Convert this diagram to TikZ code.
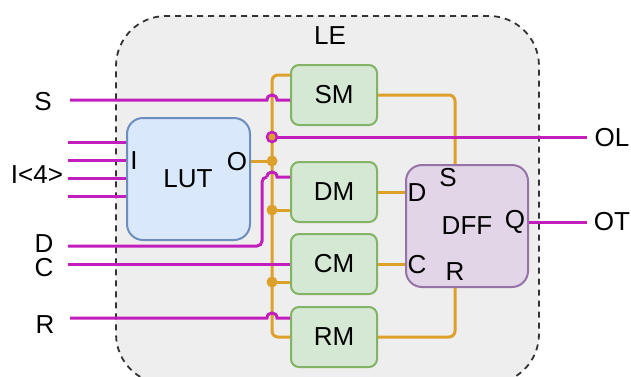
\documentclass[tikz,border=0pt]{standalone}
\usepackage{fontspec}
\setmainfont{Liberation Sans}
\definecolor{magc}{RGB}{194,30,190}
\definecolor{orgc}{RGB}{221,160,42}
\definecolor{gfill}{HTML}{D5E8D4}
\definecolor{gbord}{HTML}{82B366}
\definecolor{bfill}{HTML}{DAE8FC}
\definecolor{bbord}{HTML}{6C8EBF}
\definecolor{pfill}{HTML}{E1D5E7}
\definecolor{pbord}{HTML}{9673A6}
\definecolor{lefill}{HTML}{EEEEEE}
\definecolor{lebord}{HTML}{333333}
\begin{document}
\begin{tikzpicture}[x=1pt,y=-1pt,
  font=\fontsize{26}{30}\selectfont,
  mag/.style={draw=magc, line width=3pt},
  org/.style={draw=orgc, line width=3pt},
  mbox/.style={draw=gbord, fill=gfill, line width=2pt, rounded corners=8pt,
    minimum width=86pt, minimum height=60pt, inner sep=0pt},
  bigbox/.style={line width=2pt, rounded corners=16pt,
    minimum width=122pt, minimum height=122pt, inner sep=0pt},
  lbl/.style={inner sep=0pt, anchor=center},
  odot/.style={circle, fill=orgc, inner sep=0pt, minimum size=11pt},
  mring/.style={circle, draw=magc, line width=2.5pt, fill=orgc, inner sep=0pt, minimum size=10pt}]
\useasboundingbox (0,0) rectangle (631,376);

% container
\node[draw=lebord, fill=lefill, line width=1.8pt, dash pattern=on 6pt off 5pt,
  rounded corners=50pt, minimum width=423pt, minimum height=368pt, inner sep=0pt]
  (le) at (327.5,200) {};
\node[lbl] (letxt) at (330,36) {LE};

% boxes
\node[mbox] (sm) at (334,95) {SM};
\node[mbox] (dm) at (334,192) {DM};
\node[mbox] (cm) at (334,264) {CM};
\node[mbox] (rm) at (334,337) {RM};
\node[bigbox, draw=bbord, fill=bfill, minimum width=123pt] (lut) at (188.5,179) {};
\node[bigbox, draw=pbord, fill=pfill] (dff) at (467,226) {};

% coordinates
\coordinate (bustop) at (272,75);
\coordinate (busbot) at (272,337);
\coordinate (lo) at (272,161);
\coordinate (dmj) at (272,210);
\coordinate (cmj) at (272,282);
\coordinate (olj) at (272,137);
\coordinate (olend) at (587,137);
\coordinate (otend) at (587,222);
\coordinate (sin) at (70,100);
\coordinate (din) at (68,246);
\coordinate (dhop) at (277,177);
\coordinate (cin) at (68,264);
\coordinate (rin) at (70,318);
\coordinate (i1) at (68,142);
\coordinate (i2) at (68,160);
\coordinate (i3) at (68,178);
\coordinate (i4) at (68,196);
\coordinate (smc) at (455,95);
\coordinate (rmc) at (455,337);

% orange wiring
\draw[org, rounded corners=6pt] ([yshift=20pt]sm.west) -- (bustop) -- (busbot) -- (rm.west);
\draw[org] (lut.east |- lo) -- (lo);
\draw[org] (dmj) -- (dm.west |- dmj);
\draw[org] (cmj) -- (cm.west |- cmj);
\node[odot] (dlo) at (lo) {};
\node[odot] (ddm) at (dmj) {};
\node[odot] (dcm) at (cmj) {};
\draw[org, rounded corners=6pt] (sm.east) -- (smc) -- (smc |- dff.north);
\draw[org] (dm.east) -- (dff.west |- dm.east);
\draw[org] (cm.east) -- (dff.west |- cm.east);
\draw[org, rounded corners=6pt] (rm.east) -- (rmc) -- (rmc |- dff.south);

% magenta wiring
\draw[mag] (sin) -- (267,100) .. controls (267,93.3) and (277,93.3) .. (277,100) -- (sm.west |- sin);
\draw[mag] (olj) -- (olend);
\node[mring] (olring) at (olj) {};
\draw[mag] (i1) -- (lut.west |- i1);
\draw[mag] (i2) -- (lut.west |- i2);
\draw[mag] (i3) -- (lut.west |- i3);
\draw[mag] (i4) -- (lut.west |- i4);
\draw[mag, rounded corners=5pt] (din) -- (262,246) -- (262,177) -- (267,177);
\draw[mag] (267,177) .. controls (267,170.3) and (277,170.3) .. (dhop) -- (dm.west |- dhop);
\draw[mag] (cin) -- (cm.west |- cin);
\draw[mag] (rin) -- (267,318) .. controls (267,311.3) and (277,311.3) .. (277,318) -- (rm.west |- rin);
\draw[mag] (dff.east |- otend) -- (otend);

% labels
\node[lbl] (ls) at (43,102) {S};
\node[lbl] (li) at (37,175) {I<4>};
\node[lbl] (ld) at (44,244) {D};
\node[lbl] (lc) at (44,268) {C};
\node[lbl] (lr) at (45,325) {R};
\node[lbl] (lol) at (612,138) {OL};
\node[lbl] (lot) at (612,222) {OT};
\node[lbl] (lutt) at (188,179) {LUT};
\node[lbl] (luti) at (134,161) {I};
\node[lbl] (luto) at (237,162) {O};
\node[lbl] (dffs) at (448,178) {S};
\node[lbl] (dffd) at (417,193) {D};
\node[lbl] (dfft) at (467,226) {DFF};
\node[lbl] (dffq) at (515,222) {Q};
\node[lbl] (dffc) at (417,265) {C};
\node[lbl] (dffr) at (455,272) {R};
\end{tikzpicture}
\end{document}
